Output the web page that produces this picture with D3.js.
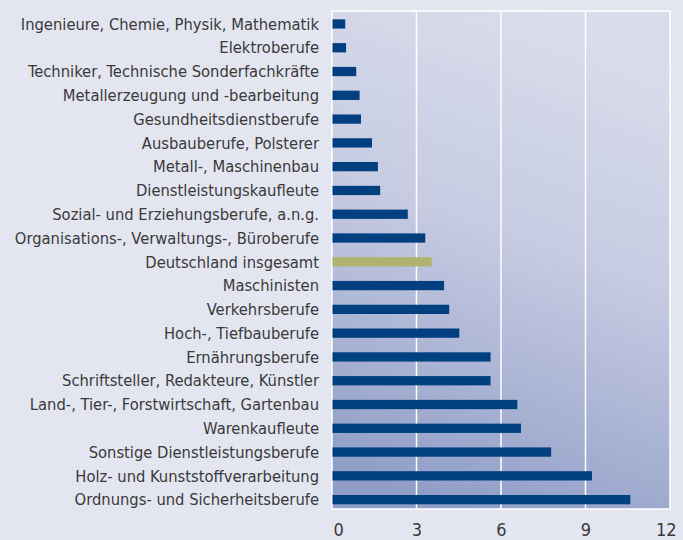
<!DOCTYPE html>
<html>
<head>
<meta charset="utf-8">
<script src="https://cdn.jsdelivr.net/npm/d3@7"></script>
<style>
body { margin: 0; background: #e3e5f1; }
</style>
</head>
<body>
<div id="chart"></div>
<script>
// categories top to bottom
const berufe = [
  "Ingenieure, Chemie, Physik, Mathematik",
  "Elektroberufe",
  "Techniker, Technische Sonderfachkräfte",
  "Metallerzeugung und -bearbeitung",
  "Gesundheitsdienstberufe",
  "Ausbauberufe, Polsterer",
  "Metall-, Maschinenbau",
  "Dienstleistungskaufleute",
  "Sozial- und Erziehungsberufe, a.n.g.",
  "Organisations-, Verwaltungs-, Büroberufe",
  "Deutschland insgesamt",
  "Maschinisten",
  "Verkehrsberufe",
  "Hoch-, Tiefbauberufe",
  "Ernährungsberufe",
  "Schriftsteller, Redakteure, Künstler",
  "Land-, Tier-, Forstwirtschaft, Gartenbau",
  "Warenkaufleute",
  "Sonstige Dienstleistungsberufe",
  "Holz- und Kunststoffverarbeitung",
  "Ordnungs- und Sicherheitsberufe"
];
const werte = [0.47, 0.5, 0.86, 0.98, 1.03, 1.42, 1.63, 1.71, 2.69, 3.31, 3.54,
  3.98, 4.16, 4.52, 5.63, 5.63, 6.58, 6.71, 7.78, 9.23, 10.59];
const ticks = [0, 3, 6, 9, 12];
const highlight = "Deutschland insgesamt";

const w = 683, h = 540;
const pLeft = 332, pRight = 670, pTop = 11, pBottom = 509;
const font = "Liberation Sans Narrow, DejaVu Sans Condensed, sans-serif";

const svg = d3.select("#chart").append("svg")
  .attr("width", w).attr("height", h);

// background gradient of the plot area
const grad = svg.append("defs").append("linearGradient")
  .attr("id", "bg")
  .attr("x1", "0.62").attr("y1", "0")
  .attr("x2", "0.38").attr("y2", "1");
grad.append("stop").attr("offset", "0").attr("stop-color", "#d9ddeb");
grad.append("stop").attr("offset", "0.45").attr("stop-color", "#c6cbe2");
grad.append("stop").attr("offset", "1").attr("stop-color", "#909ec7");

const x = d3.scaleLinear().domain([0, 12]).range([pLeft, pRight]);
const y = d3.scaleBand().domain(berufe).range([pTop, 512.6]).paddingInner(0.61).paddingOuter(0.35);

svg.append("rect")
  .attr("x", pLeft).attr("y", pTop)
  .attr("width", pRight - pLeft).attr("height", pBottom - pTop)
  .attr("fill", "url(#bg)");

// grid lines
svg.append("g").selectAll("line")
  .data(ticks.slice(1, -1))
  .enter().append("line")
  .attr("x1", d => x(d)).attr("x2", d => x(d))
  .attr("y1", pTop).attr("y2", pBottom)
  .attr("stroke", "#fff").attr("stroke-width", 1.5);

svg.append("rect")
  .attr("x", pLeft).attr("y", pTop)
  .attr("width", pRight - pLeft).attr("height", pBottom - pTop)
  .attr("fill", "none").attr("stroke", "#fff").attr("stroke-width", 1.5);

// bars
svg.append("g").selectAll("rect")
  .data(berufe)
  .enter().append("rect")
  .attr("x", x(0) + 0.5)
  .attr("y", d => y(d))
  .attr("width", (d, i) => x(werte[i]) - x(0) - 0.5)
  .attr("height", y.bandwidth())
  .attr("fill", d => d === highlight ? "#b0b36e" : "#003f80");

// category labels
svg.append("g").selectAll("text")
  .data(berufe)
  .enter().append("text")
  .attr("x", 319)
  .attr("y", d => y(d) + y.bandwidth() / 2)
  .attr("dy", "0.35em")
  .attr("text-anchor", "end")
  .attr("font-family", font)
  .attr("font-size", 16.4)
  .attr("fill", "#3a3a3a")
  .text(d => d);

// x axis labels
const xAxis = d3.axisBottom(x).tickValues(ticks).tickSize(0).tickPadding(14);
const ax = svg.append("g")
  .attr("transform", "translate(0," + pBottom + ")")
  .call(xAxis);
ax.select(".domain").remove();
ax.selectAll("text")
  .attr("font-family", font)
  .attr("font-size", 18)
  .attr("fill", "#3a3a3a")
  .attr("text-anchor", d => d === 0 ? "start" : (d === 12 ? "end" : "middle"))
  .attr("dx", d => d === 0 ? 1 : (d === 12 ? 6 : 0));
</script>
</body>
</html>
